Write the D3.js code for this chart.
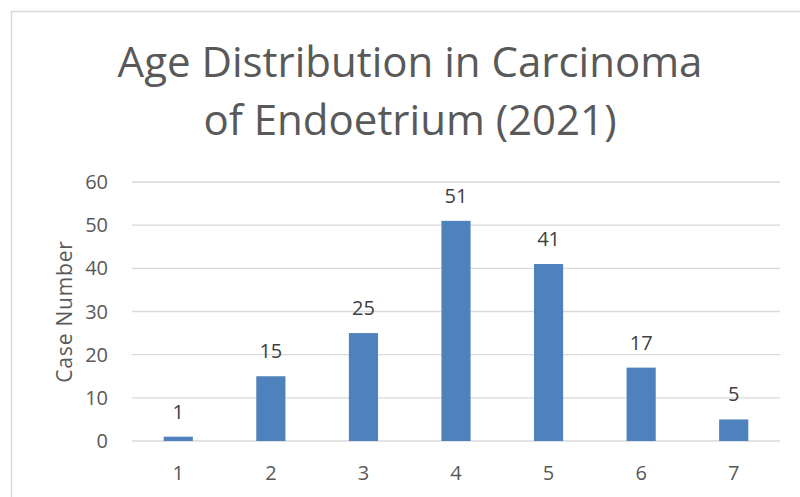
<!DOCTYPE html>
<html lang="en">
<head>
<meta charset="utf-8">
<title>Age Distribution</title>
<script src="https://d3js.org/d3.v7.min.js"></script>
<style>
  body { margin: 0; background: #fff; }
  text { font-family: "Open Sans", sans-serif; }
</style>
</head>
<body>
<script>
var categories = ["1", "2", "3", "4", "5", "6", "7"]
var cases = [1, 15, 25, 51, 41, 17, 5]
var yTicks = [0, 10, 20, 30, 40, 50, 60]
var titleLines = ["Age Distribution in Carcinoma", "of Endoetrium (2021)"]

var w = 800, h = 497
var plotLeft = 132, plotRight = 780, plotTop = 182, plotBottom = 441

var svg = d3.select("body").append("svg").attr("width", w).attr("height", h)

// chart frame
svg.append("rect").attr("x", 11.5).attr("y", 11.5).attr("width", 800).attr("height", 500)
    .attr("fill", "#fff").attr("stroke", "#d9d9d9").attr("stroke-width", 1.5)

var x = d3.scaleBand().domain(categories).range([plotLeft, plotRight]).paddingInner(0.685).paddingOuter(0.3425)
var y = d3.scaleLinear().domain([0, 60]).range([plotBottom, plotTop])

// gridlines
svg.append("g").selectAll("line").data(yTicks).join("line")
    .attr("x1", plotLeft).attr("x2", plotRight)
    .attr("y1", function(d){ return y(d) }).attr("y2", function(d){ return y(d) })
    .attr("stroke", "#d9d9d9").attr("stroke-width", 1.3)

// y tick labels
svg.append("g").selectAll("text").data(yTicks).join("text")
    .attr("x", 108).attr("y", function(d){ return y(d) })
    .attr("dy", "0.35em").attr("text-anchor", "end")
    .attr("font-size", 20).attr("fill", "#595959")
    .text(function(d){ return d })

// x tick labels
svg.append("g").selectAll("text").data(categories).join("text")
    .attr("x", function(d){ return x(d) + x.bandwidth()/2 }).attr("y", 480)
    .attr("text-anchor", "middle")
    .attr("font-size", 20).attr("fill", "#595959")
    .text(function(d){ return d })

// bars
svg.append("g").selectAll("rect").data(cases).join("rect")
    .attr("x", function(d, i){ return x(categories[i]) })
    .attr("y", function(d){ return y(d) })
    .attr("width", x.bandwidth())
    .attr("height", function(d){ return y(0) - y(d) })
    .attr("fill", "#4f81bd")

// data labels
svg.append("g").selectAll("text").data(cases).join("text")
    .attr("x", function(d, i){ return x(categories[i]) + x.bandwidth()/2 })
    .attr("y", function(d){ return y(d) - 18 })
    .attr("text-anchor", "middle")
    .attr("font-size", 20).attr("fill", "#404040")
    .text(function(d){ return d })

// y axis title
svg.append("text")
    .attr("transform", "translate(72," + ((plotTop + plotBottom) / 2) + ") rotate(-90)")
    .attr("text-anchor", "middle")
    .attr("font-size", 21).attr("letter-spacing", 0.8).attr("fill", "#595959")
    .text("Case Number")

// title
svg.append("g").selectAll("text").data(titleLines).join("text")
    .attr("x", 410).attr("y", function(d, i){ return 77 + i * 58 })
    .attr("text-anchor", "middle")
    .attr("font-size", 42).attr("fill", "#595959")
    .text(function(d){ return d })
</script>
</body>
</html>
